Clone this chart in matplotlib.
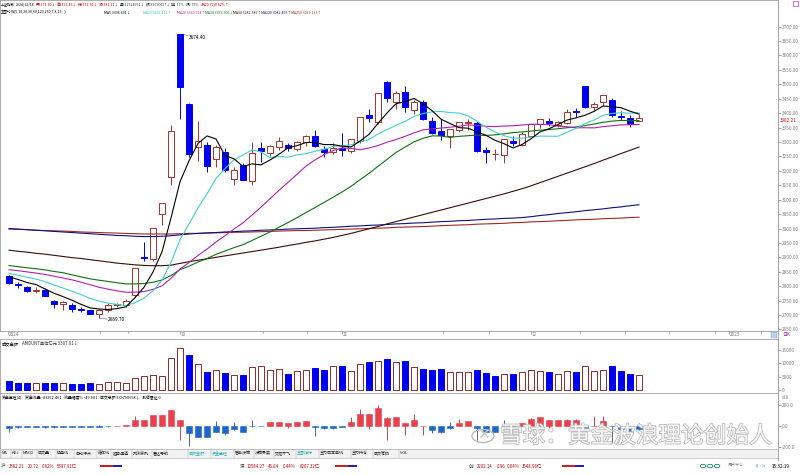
import matplotlib
matplotlib.use('Agg')
import matplotlib.pyplot as plt
import matplotlib.patheffects as pe
from matplotlib.patches import Rectangle, Circle
import numpy as np
import pandas as pd

plt.rcParams['font.family'] = ['Noto Sans CJK SC', 'DejaVu Sans']
plt.rcParams['axes.unicode_minus'] = False

W, H = 800, 475

# 上证指数 daily candles, 2024-09-02 .. 2024-12-18
opens = [2836.0, 2806.0, 2796.0, 2785.0, 2788.0, 2750.0, 2737.0, 2735.0, 2722.0, 2716.0,
         2704.0, 2716.0, 2735.5, 2734.0, 2770.0, 2901.0, 2893.0, 3049.0, 3180.0, 3674.40,
         3433.0, 3283.0, 3290.0, 3240.0, 3266.0, 3170.0, 3221.0, 3165.0, 3279.0, 3261.0,
         3283.0, 3290.0, 3276.0, 3299.0, 3322.0, 3274.0, 3265.0, 3280.0, 3270.0, 3305.0,
         3392.0, 3370.0, 3509.0, 3440.0, 3474.0, 3410.0, 3438.0, 3372.0, 3338.0, 3322.0,
         3343.0, 3365.0, 3367.0, 3271.0, 3259.0, 3256.0, 3304.0, 3290.0, 3322.0, 3363.0,
         3373.0, 3358.0, 3366.0, 3407.0, 3494.0, 3420.0, 3438.0, 3446.0, 3390.0, 3384.0,
         3371.30]
highs = [2839.8, 2815.0, 2800.0, 2797.0, 2792.0, 2753.0, 2748.0, 2741.0, 2729.0, 2719.0,
         2722.0, 2742.0, 2743.0, 2754.0, 2864.0, 2952.0, 3000.95, 3088.0, 3358.59, 3674.40,
         3436.0, 3372.0, 3300.0, 3290.0, 3280.0, 3213.0, 3227.0, 3300.0, 3299.0, 3291.0,
         3316.0, 3296.0, 3304.0, 3323.0, 3340.0, 3287.0, 3296.0, 3330.0, 3311.0, 3387.0,
         3414.0, 3471.0, 3509.8, 3478.0, 3493.0, 3444.0, 3445.0, 3385.0, 3378.0, 3346.0,
         3368.0, 3381.0, 3374.0, 3284.0, 3275.0, 3310.0, 3320.0, 3336.0, 3364.0, 3379.0,
         3382.0, 3372.0, 3413.0, 3417.0, 3495.0, 3440.0, 3462.0, 3452.0, 3409.0, 3395.0,
         3396.46]
lows = [2808.0, 2795.0, 2780.0, 2776.0, 2765.0, 2723.0, 2716.0, 2712.0, 2712.0, 2703.0,
        2689.70, 2709.0, 2727.0, 2729.0, 2762.0, 2889.0, 2889.0, 3011.0, 3152.0, 3380.0,
        3249.0, 3234.0, 3195.0, 3212.0, 3195.0, 3152.0, 3168.0, 3152.0, 3229.0, 3251.0,
        3271.0, 3268.0, 3270.0, 3286.0, 3283.0, 3249.0, 3259.0, 3251.0, 3262.0, 3298.0,
        3368.0, 3361.0, 3440.0, 3415.0, 3403.0, 3397.0, 3376.0, 3326.0, 3306.0, 3278.0,
        3336.0, 3342.0, 3265.0, 3227.0, 3238.0, 3227.0, 3285.0, 3286.0, 3322.0, 3347.0,
        3355.0, 3353.0, 3362.0, 3386.0, 3418.0, 3410.0, 3425.0, 3385.0, 3377.0, 3353.0,
        3371.30]
closes = [2811.04, 2802.98, 2784.28, 2788.22, 2765.81, 2736.49, 2744.19, 2721.80, 2717.12, 2704.09,
          2717.28, 2736.02, 2736.81, 2748.92, 2863.13, 2896.31, 3000.95, 3087.53, 3336.50, 3489.78,
          3258.86, 3301.93, 3217.74, 3284.32, 3201.29, 3202.95, 3169.38, 3261.56, 3268.11, 3285.87,
          3302.80, 3280.26, 3299.70, 3322.20, 3286.41, 3266.24, 3279.82, 3272.01, 3310.21, 3386.99,
          3383.81, 3470.07, 3452.30, 3470.66, 3421.97, 3439.28, 3379.84, 3330.73, 3323.85, 3346.01,
          3367.99, 3370.40, 3267.19, 3263.76, 3259.76, 3309.78, 3295.70, 3326.46, 3363.98, 3378.81,
          3364.65, 3368.86, 3404.08, 3402.53, 3422.66, 3432.49, 3461.50, 3391.88, 3386.33, 3361.49,
          3382.21]
# closes before the visible window (for the short moving averages)
prior_closes = [2915.37, 2901.95, 2886.74, 2890.90, 2891.85, 2879.30, 2938.75, 2932.39, 2905.34,
                2860.70, 2867.28, 2869.90, 2870.34, 2862.19, 2858.20, 2867.95, 2850.65, 2877.36,
                2879.43, 2893.67, 2866.66, 2856.58, 2848.77, 2854.37, 2855.52, 2848.32, 2837.43,
                2823.11, 2842.21]
# long averages
ma60 = [2925, 2921, 2918, 2914, 2911, 2907, 2903, 2899, 2896, 2892, 2888, 2884, 2880, 2877, 2874,
        2872, 2871, 2871, 2873, 2879, 2885, 2890, 2895, 2900, 2905, 2910, 2915, 2920, 2925, 2930,
        2935, 2941, 2946, 2952, 2957, 2963, 2969, 2976, 2983, 2991, 2999, 3007, 3016, 3024, 3032,
        3040, 3048, 3056, 3064, 3072, 3080, 3088, 3096, 3104, 3112, 3120, 3129, 3138, 3148, 3159,
        3170, 3181, 3192, 3203, 3214, 3225, 3237, 3248, 3260, 3271, 3282.6]
ma120 = [3000, 2998, 2996, 2994, 2992, 2990, 2988, 2986, 2984, 2982, 2980, 2978, 2976, 2975, 2973,
         2972, 2972, 2973, 2975, 2978, 2981, 2983, 2985, 2986, 2988, 2989, 2991, 2992, 2994, 2995,
         2996, 2998, 2999, 3000, 3001, 3003, 3004, 3006, 3008, 3009, 3011, 3012, 3014, 3016, 3017,
         3019, 3020, 3022, 3024, 3025, 3027, 3028, 3030, 3032, 3033, 3035, 3036, 3038, 3041, 3045,
         3048, 3052, 3055, 3058, 3062, 3065, 3068, 3072, 3075, 3079, 3082.5]
ma250 = [2998, 2997, 2996, 2994, 2993, 2992, 2991, 2990, 2988, 2987, 2986, 2985, 2984, 2983, 2982,
         2981, 2981, 2981, 2981, 2982, 2983, 2983, 2984, 2985, 2986, 2987, 2987, 2988, 2989, 2990,
         2991, 2992, 2993, 2993, 2994, 2995, 2996, 2997, 2998, 2999, 3000, 3001, 3002, 3004, 3005,
         3006, 3007, 3008, 3010, 3011, 3012, 3013, 3015, 3016, 3017, 3018, 3020, 3021, 3023, 3024,
         3025, 3027, 3028, 3030, 3031, 3032, 3034, 3035, 3036, 3038, 3039.2]
# 成交金额 (亿元)
amount = [3335, 2717, 2470, 2470, 2470, 2717, 2470, 2223, 2223, 2594,
          2223, 2964, 2841, 2594, 4570, 5311, 5558, 5064, 11980, 15438,
          13091, 9757, 6793, 7287, 6422, 5681, 5681, 8522, 8769, 7287,
          7781, 6052, 7040, 7410, 8275, 7534, 8892, 9016, 7040, 9633,
          10498, 10745, 11362, 10498, 10745, 8522, 7781, 7534, 7781, 6669,
          6546, 6546, 7287, 6175, 5187, 5928, 5805, 6793, 7287, 7040,
          6669, 5928, 6916, 6669, 8769, 7040, 7410, 8769, 7040, 5928,
          5397.91]
# 资金监控: bar value, upper and lower whisker
flow = [-16, -10, -8, -10, -12, -12, -10, -10, -8, -8, -5, -3, 3, 12, 57, 57, 105, 105, 152, 57,
        -70, -108, -108, -54, -70, -32, -54, -3, -2, 38, 38, 32, 38, 48, -5, -22, -22, -5, 41, 120,
        114, 178, 82, 89, 25, 63, 3, -38, -63, -22, 32, 48, -22, -54, -54, -2, -10, 32, 73, 89,
        57, 57, 63, 63, -22, 3, 51, -3, -32, -70, -32]
flow_hi = [0, 0, 0, 0, 0, 0, 0, 0, 0, 0, 8, 5, 5, 14, 95, 60, 110, 110, 152, 60,
           0, 0, 0, 48, 0, 38, 0, 63, 3, 40, 40, 34, 40, 50, 0, 0, 0, 0, 89, 168,
           116, 209, 84, 92, 27, 114, 5, 0, 0, 35, 73, 50, 0, 0, 0, 63, 0, 34, 75, 91,
           59, 59, 65, 65, 0, 95, 95, 0, 0, 0, 32]
flow_lo = [-54, -16, -12, -14, -16, -16, -14, -14, -12, -10, -8, -5, 0, 0, 0, 0, 0, 0, 0, -139,
           -190, -110, -110, -56, -85, -35, -58, -5, -3, 0, 0, -22, 0, 0, -100, -25, -25, -6, 0, 0,
           -32, 0, -139, 0, -86, 0, -86, -70, -65, -25, 0, 0, -133, -56, -56, -4, -22, 0, 0, 0,
           -22, 0, 0, 0, -133, 0, 0, -165, -35, -72, -35]

month_ticks = [-0.1, 19, 37, 58, 80]
month_labels = ['2024', '10', '11', '12', '2025']

RED = '#a8322c'
BLUE = '#0000ee'
GRID = '#a0a0a0'
TXT = '#808080'


def rect(x0, y0, x1, y1):
    return [x0 / W, 1 - y1 / H, (x1 - x0) / W, (y1 - y0) / H]


def put(x, y, s, size=2.6, color='black', **kw):
    kw.setdefault('ha', 'left')
    kw.setdefault('va', 'center')
    return fig.text(x / W, 1 - y / H, s, fontsize=size, color=color, **kw)


fig = plt.figure(figsize=(8, 4.75), dpi=100)
fig.patch.set_facecolor('white')
renderer = fig.canvas.get_renderer()


def put_row(x, y, segs, size, gap=1.5):
    # place text pieces one after another so they never overlap
    for s, c in segs:
        t = put(x, y, s, size, c)
        x += t.get_window_extent(renderer=renderer).width + gap


n = len(closes)
xs = np.arange(n)
allc = pd.Series(prior_closes + closes)
ma = {k: allc.rolling(k).mean().values[-n:] for k in (5, 10, 20, 30)}

# ---------- main price panel ----------
ax = fig.add_axes(rect(0, 0, 778, 331))
for i in range(n):
    up = closes[i] >= opens[i]
    col = RED if up else BLUE
    ax.vlines(i, lows[i], highs[i], color=col, lw=0.7, zorder=2)
    b0, b1 = sorted((opens[i], closes[i]))
    ax.add_patch(Rectangle((i - 0.36, b0), 0.72, max(b1 - b0, 1.0),
                           facecolor='white' if up else BLUE, edgecolor=col,
                           lw=0.7, zorder=3))
ax.plot(xs, ma250, color='#a02828', lw=0.8, zorder=4)
ax.plot(xs, ma120, color='#10107a', lw=0.8, zorder=4)
ax.plot(xs, ma60, color='#3a0c0c', lw=0.8, zorder=4)
ax.plot(xs, ma[30], color='#107010', lw=0.8, zorder=4)
ax.plot(xs, ma[20], color='#b020b0', lw=0.8, zorder=4)
ax.plot(xs, ma[10], color='#40d0d0', lw=0.8, zorder=4)
ax.plot(xs, ma[5], color='black', lw=0.8, zorder=4)

ax.set_xlim(-1, 85.44)
ax.set_ylim(2644.6, 3792.3)
ax.yaxis.tick_right()
ax.set_yticks(np.arange(2650, 3701, 50))
ax.set_yticklabels(['%.2f' % v for v in np.arange(2650, 3701, 50)])
ax.tick_params(axis='y', length=2, width=0.5, pad=0.8, labelsize=3.4, colors=TXT)
ax.set_xticks([])
for s in ax.spines.values():
    s.set_color(GRID)
    s.set_linewidth(0.6)

hi_i = int(np.argmax(highs))
lo_i = int(np.argmin(lows))
ax.plot([hi_i + 0.3, hi_i + 0.9], [highs[hi_i], highs[hi_i] - 6], color='#606060', lw=0.4)
ax.text(hi_i + 1.0, highs[hi_i] - 12, '%.2f' % highs[hi_i], fontsize=3.4, va='center')
ax.plot([lo_i, lo_i + 0.9], [lows[lo_i], lows[lo_i] - 4], color='#606060', lw=0.4)
ax.text(lo_i + 1.0, lows[lo_i] - 6, '%.2f' % lows[lo_i], fontsize=3.4, va='center')
ax.text(1.003, closes[-1] - 8, '%.2f' % closes[-1], transform=ax.get_yaxis_transform(),
        fontsize=3.3, color='#c00000', va='center', ha='left')

# date strip
for t, lab in zip(month_ticks, month_labels):
    px = 9 + 9 * t
    fig.add_artist(plt.Line2D([px / W, px / W], [1 - 331 / H, 1 - 334 / H], color=TXT, lw=0.4))
    put(px + 1, 335, lab, size=3.4, color=TXT)
for px in [100, 128, 263, 307, 443, 489, 580, 625, 669, 715, 761]:
    fig.add_artist(plt.Line2D([px / W, px / W], [1 - 331 / H, 1 - 333 / H], color=TXT, lw=0.4))
fig.add_artist(Rectangle((771 / W, 1 - 338 / H), 6 / W, 6 / H, facecolor='#b8d4f0',
                         edgecolor='#7aa0d0', lw=0.3))
put(782, 335, '日K', size=3.4, color='#a020a0')

# ---------- amount panel ----------
av = fig.add_axes(rect(0, 339, 778, 393))
prev = [prior_closes[-1]] + closes[:-1]
for i in range(n):
    up = closes[i] >= prev[i]
    av.add_patch(Rectangle((i - 0.37, 0), 0.74, amount[i],
                           facecolor='white' if up else BLUE,
                           edgecolor='#8e2a2a' if up else BLUE, lw=0.7))
av.set_xlim(-1, 85.44)
av.set_ylim(-1111, 18889)
av.yaxis.tick_right()
av.set_yticks([0, 5000, 10000, 15000])
av.tick_params(axis='y', length=2, width=0.5, pad=0.8, labelsize=3.4, colors=TXT)
av.set_xticks([])
for s in av.spines.values():
    s.set_color(GRID)
    s.set_linewidth(0.6)

put_row(2, 343.5, [('成交金额', 'black'), ('  AMOUNT单位亿元 5397.91↓', '#333333')], 3.1)

# ---------- fund flow panel ----------
af = fig.add_axes(rect(0, 393, 778, 449))
for i in range(n):
    up = flow[i] >= 0
    face = '#e8404c' if up else '#1e66cc'
    wick = '#c02830' if up else '#404870'
    af.vlines(i, flow_lo[i], flow_hi[i], color=wick, lw=0.6, zorder=2)
    af.add_patch(Rectangle((i - 0.36, min(0, flow[i])), 0.72, max(abs(flow[i]), 2),
                           facecolor=face, edgecolor=face, lw=0.4, zorder=3))
af.set_xlim(-1, 85.44)
af.set_ylim(-224, 321.75)
af.yaxis.tick_right()
af.set_yticks([-200, 0, 200])
af.set_yticklabels(['-200.0', '0.0', '200.0'])
af.tick_params(axis='y', length=2, width=0.5, pad=0.8, labelsize=3.4, colors=TXT)
af.set_xticks([])
for s in af.spines.values():
    s.set_color(GRID)
    s.set_linewidth(0.6)
put(782, 397.5, 'x10', size=3.2, color=TXT)

put_row(2, 398, [('资金监控(4)', 'black'), ('资金流量 -43252.461', 'black'),
                 ('流量幅度% -49.901', 'black'), ('成交总额 539790658↓', 'black'),
                 ('涨停雷达 0', 'black')], 2.8, gap=2.5)

# ---------- header ----------
line1 = [('上证指数', 'black'), ('2024/12/18', 'black'), ('开3371.30↓', '#c00000'),
         ('高3396.46↓', '#c00000'), ('低3371.30↓', '#c00000'), ('收3382.21↓', '#c00000'),
         ('量512524992↓', '#333333'), ('额539790657↓', '#333333'),
         ('换1.11%', '#333333'), ('振0.75%', '#333333'), ('涨(20.72)0.62%↑', '#c00000')]
put_row(1, 4.5, line1, 2.55, gap=1.0)
line2 = [(1, '主图均线(5,10,20,30,60,120,250,7,8,13,..)', 'black'), (104, 'MA5 3396.691↓', 'black'),
         (143, 'MA10 3401.411↑', '#30c0c0'), (177, 'MA20 3360.724↑', '#b020b0'),
         (205, 'MA30 3373.906↓', '#107010'), (233, 'MA60 3282.587↑', '#3a0c0c'),
         (261, 'MA120 3082.495↑', '#10107a'), (291, 'MA250 3039.233↑', '#a02828')]
for x, s, c in line2:
    put(x, 12.5, s, 2.55, c)
fig.add_artist(Rectangle((793 / W, 1 - 6 / H), 5 / W, 5 / H, facecolor='none',
                         edgecolor='#b040c0', lw=0.5))

# ---------- tab bar ----------
fig.add_artist(Rectangle((0, 1 - 458 / H), 778 / W, 9 / H, facecolor='#f2f2f2',
                         edgecolor='#b0b0b0', lw=0.4))
tabs = [(2, 'MA'), (12, 'KDJ'), (23, 'MACD'), (38, '成交量'), (57, '操盘线'), (75, '自动评点'),
        (98, '箱体线'), (113, '趋势通道'), (133, '九转序列'), (153, '雷达导航'), (189, '成交金额'),
        (212, '资金监控'), (235, '智能决策'), (255, '决策买卖'), (275, '双龙齐飞'), (297, '主图指标'),
        (320, '主力成本曲线'), (352, '主力持仓'), (374, '成交筹码'), (400, 'VOL')]
hl = {'成交金额', '资金监控', '主图指标'}
for x, s in tabs:
    put(x, 453.5, s, size=2.9, color='#20b0b0' if s in hl else '#222222')
    fig.add_artist(plt.Line2D([(x - 1) / W] * 2, [1 - 449 / H, 1 - 458 / H], color='#b0b0b0', lw=0.3))

# ---------- status bar ----------
for x0, name, vals, bx in [(4, '沪', [(9, '3382.21'), (28, '20.72'), (42, '0.62%'), (57, '5397.91亿')], 100),
                           (243, '深', [(247, '10584.27'), (268, '46.84'), (283, '0.44%'), (300, '8207.32亿')], 335),
                           (472, '创', [(477, '2202.14'), (497, '0.96'), (507, '0.04%'), (522, '3548.96亿')], 562)]:
    put(x0 - 3, 466, name, size=3.3, color='#333333')
    for x, s in vals:
        put(x, 466, s, size=3.1, color='#c00000')
    fig.add_artist(Rectangle((bx / W, 1 - 467 / H), 13 / W, 1.6 / H, facecolor='#d02020', lw=0))
    fig.add_artist(Rectangle(((bx + 13) / W, 1 - 467 / H), 9 / W, 1.6 / H, facecolor='#2020c0', lw=0))
for cx in (703, 710, 717):
    fig.add_artist(Circle((cx / W, 1 - 466 / H), 2.8 / W, facecolor='white',
                          edgecolor='#208060', lw=0.6))
put(728, 466, '用户中心', size=2.9, color='#888888')
put(756, 466, '((•))', size=3.0, color='#3070c0')
put(772, 466, '15:32:19', size=3.4, color='black')

# right axis line through all panels
fig.add_artist(plt.Line2D([778 / W, 778 / W], [1 - 0 / H, 1 - 460 / H], color=GRID, lw=0.6))

# ---------- watermark ----------
fig.add_artist(Circle((483 / W, 1 - 436 / H), 11 / W, facecolor='none', edgecolor='#b8b8b8', lw=1.0))
put(483, 435, '✕', size=11, color='#c8c8c8', ha='center', family=['DejaVu Sans'])
wm = fig.text(500 / W, 1 - 436 / H, '雪球：黄金波浪理论创始人', fontsize=16.3, color='white',
              ha='left', va='center', alpha=0.9)
wm.set_path_effects([pe.Stroke(linewidth=1.2, foreground='#b4b4b4'), pe.Normal()])

fig.savefig('out.png', dpi=100, facecolor='white')
